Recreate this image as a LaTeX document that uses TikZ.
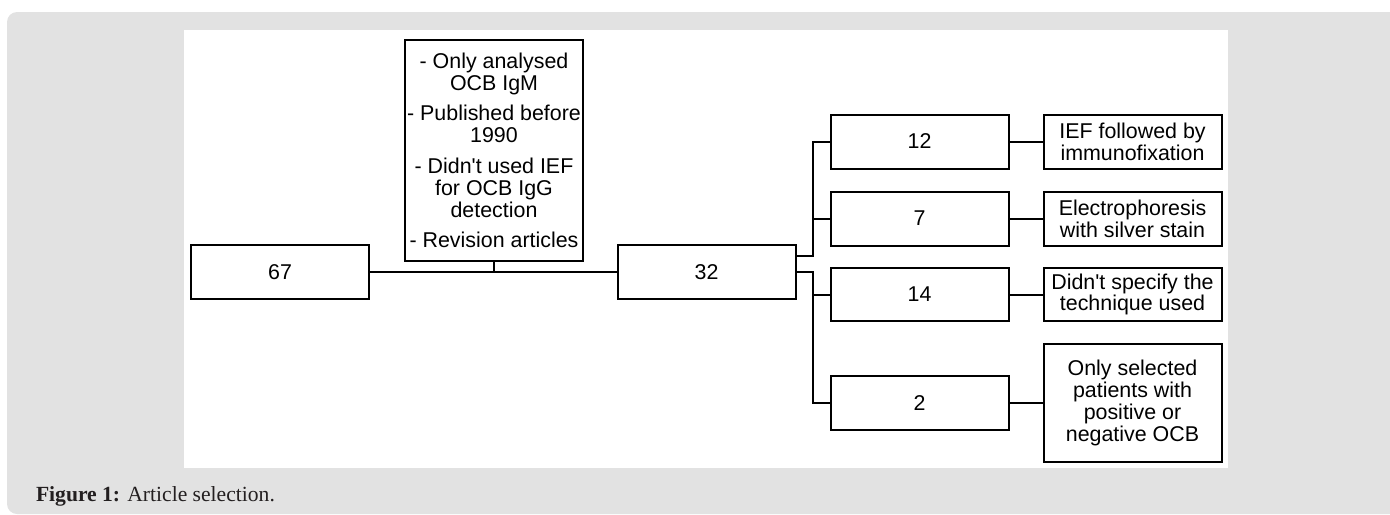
\documentclass[tikz,border=0pt]{standalone}
\usepackage{fontspec}
\setmainfont{Liberation Sans}[Ligatures=TeXOff]
\newfontfamily\capfont{Liberation Serif}
\definecolor{panelgrey}{HTML}{E2E2E2}
\definecolor{captext}{HTML}{231F20}

\begin{document}
\begin{tikzpicture}[x=0.5pt,y=-0.5pt,line width=1pt,
    box/.style={draw,minimum width=89pt,minimum height=27pt,inner sep=0pt,align=center,
      font=\fontsize{10.7}{10.9}\selectfont}]
  \useasboundingbox (0,0) rectangle (1390,514);
  % panel and caption
  \fill[panelgrey,rounded corners=5pt] (1400,12) -- (7,12) -- (7,514) -- (1400,514) -- cycle;
  \fill[white] (184,30) rectangle (1228,468);
  \node[anchor=base west,inner sep=0pt,text=captext,font=\capfont\fontsize{10.8}{12}\selectfont] (cap) at (35,501) {\textbf{Figure 1:} Article selection.};
  % boxes
  \node[box] (n67) at (280,272) {67};
  \node[box,minimum height=110.5pt] (excl) at (494,150.5) {- Only analysed\\OCB IgM\\[4.5pt]
    - Published before\\1990\\[4.5pt] - Didn't used IEF\\for OCB IgG\\detection\\[4.5pt]
    - Revision articles};
  \node[box] (n32) at (706.5,272) {32};
  \node[box] (n12) at (919.5,141.5) {12};
  \node[box] (n7) at (919.5,218.5) {7};
  \node[box,minimum height=26.5pt] (n14) at (919.5,294.5) {14};
  \node[box] (n2) at (919.5,403) {2};
  \node[box] (r12) at (1132.5,141.5) {IEF followed by\\immunofixation};
  \node[box] (r7) at (1132.5,218.5) {Electrophoresis\\with silver stain};
  \node[box,minimum height=26.5pt] (r14) at (1132.5,294.5) {Didn't specify the\\technique used};
  \node[box,minimum height=59pt] (r2) at (1132.5,403) {Only selected\\patients with\\positive or\\negative OCB};
  % connectors
  \coordinate (bu) at (813,256);
  \coordinate (bd) at (813,272);
  \draw (n67.east) -- (n32.west);
  \draw (excl.south) -- (excl.south |- n67.east);
  \draw (n32.east |- bu) -- (bu) |- (n12.west);
  \draw (bu |- n7) -- (n7.west);
  \draw (n32.east) -- (bd) |- (n2.west);
  \draw (bd |- n14) -- (n14.west);
  \foreach \a in {12,7,14,2}
    \draw (n\a.east) -- (r\a.west);
\end{tikzpicture}
\end{document}
